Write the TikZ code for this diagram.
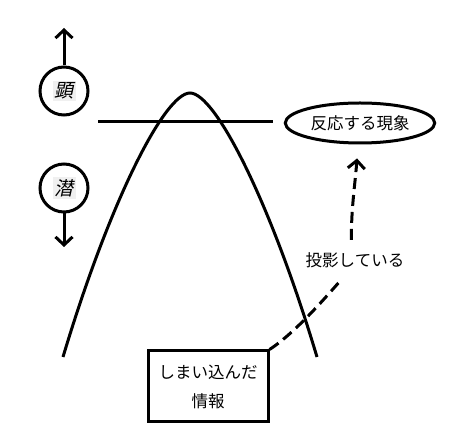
\documentclass[tikz,border=0pt]{standalone}
\usepackage{fontspec}
\setmainfont{Noto Sans CJK JP}
\newfontfamily\slantjp[FakeSlant=0.22]{Noto Sans CJK JP}
\usetikzlibrary{arrows.meta,shapes.geometric}

\begin{document}
\begin{tikzpicture}[x=1pt, y=-1pt, line width=3pt,
  level node/.style={draw, circle, minimum size=48pt, inner sep=0pt, font=\fontsize{19}{22}\selectfont\slantjp},
  event node/.style={draw, ellipse, minimum width=134pt, minimum height=40pt, font=\fontsize{16.5}{19}\selectfont},
  info node/.style={draw, rectangle, minimum width=120pt, minimum height=71pt, align=center, font=\fontsize{16.5}{29}\selectfont},
  proj node/.style={inner xsep=2pt, inner ysep=11pt, font=\fontsize{16.5}{19}\selectfont},
  barb/.style={-{Straight Barb[length=8pt,width=17pt]}},
  proj line/.style={dash pattern=on 11pt off 6pt}]
\useasboundingbox (0,0) rectangle (453,435);

\setlength{\fboxsep}{2pt}
\node[level node] (surface) at (64,91)  {\colorbox{gray!12}{顕}};
\node[level node] (latent)  at (64,188) {\colorbox{gray!12}{潜}};
\coordinate (up)   at (64,28);
\coordinate (down) at (64,247);
\draw[barb] (surface.north) -- (up);
\draw[barb] (latent.south) -- (down);

% threshold line and curve
\draw (98,122) -- (273,122);
\draw (63,357) .. controls (110,200) and (165,93) .. (190,93)
               .. controls (215,93) and (270,200) .. (317,357);

\node[event node] (event) at (360,123) {反応する現象};
\node[info node]  (info)  at (208,386.5) {しまい込んだ\\情報};
\node[proj node]  (proj)  at (355,260) {投影している};

\draw[proj line] (info.north east) .. controls (295,333) and (325,298) .. (proj.235);
\draw[proj line, barb, shorten >=14pt] (proj.100) .. controls (351,210) and (355,185) .. (event.265);
\end{tikzpicture}
\end{document}
